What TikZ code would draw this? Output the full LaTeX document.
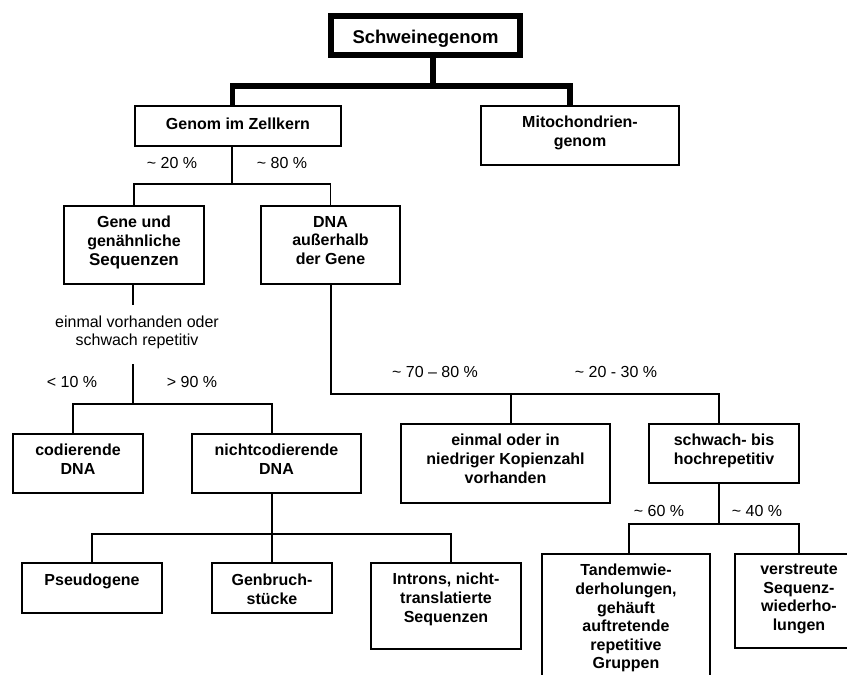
\documentclass[tikz,border=0pt]{standalone}
\usepackage{fontspec}
\setmainfont{Liberation Sans}
\begin{document}
\begin{tikzpicture}[x=1pt,y=-1pt,
  box/.style={draw, line width=1.8pt, inner sep=0pt, rectangle},
  bigbox/.style={draw, line width=5.5pt, inner sep=0pt, rectangle},
  txt/.style={anchor=north, inner sep=0pt, align=center, font=\bfseries\fontsize{16}{18.6}\selectfont},
  lbl/.style={anchor=base, inner sep=0pt, font=\fontsize{16}{18}\selectfont},
  conn/.style={line width=1.8pt},
  thickconn/.style={line width=5.5pt}]
\useasboundingbox (0,0) rectangle (847,675);
\clip (0,0) rectangle (847,675);
\fill[white] (0,0) rectangle (847,675);

% boxes
\node[bigbox, minimum width=189pt, minimum height=39pt] (s) at (425.5,35.5) {};
\node[anchor=base, inner sep=0pt, font=\bfseries\fontsize{18.5}{20}\selectfont] (s-t) at (425.5,43) {Schweinegenom};

\node[box, minimum width=206pt, minimum height=40pt] (gz) at (238,126) {};
\node[txt] (gz-t) at ([yshift=-12.5pt]gz.north) {Genom im Zellkern};

\node[box, minimum width=198pt, minimum height=59pt] (mito) at (580,135.5) {};
\node[txt] (mito-t) at ([yshift=-11pt]mito.north) {Mitochondrien-\\genom};

\node[box, minimum width=140pt, minimum height=78pt] (gene) at (134,245) {};
\node[txt] (gene-t) at ([yshift=-11pt]gene.north) {Gene und\\genähnliche\\{\fontsize{17}{18.6}\selectfont Sequenzen}};

\node[box, minimum width=139pt, minimum height=78pt] (dna) at (330.5,245) {};
\node[txt] (dna-t) at ([yshift=-11pt]dna.north) {DNA\\außerhalb\\der Gene};

\node[box, minimum width=130pt, minimum height=59pt] (cod) at (78,463.5) {};
\node[txt] (cod-t) at ([yshift=-11pt]cod.north) {codierende\\DNA};

\node[box, minimum width=169pt, minimum height=59pt] (nicht) at (276.5,463.5) {};
\node[txt] (nicht-t) at ([yshift=-11pt]nicht.north) {nichtcodierende\\DNA};

\node[box, minimum width=209pt, minimum height=79pt] (einmal) at (505.5,463.5) {};
\node[txt] (einmal-t) at ([yshift=-11pt]einmal.north) {einmal oder in\\niedriger Kopienzahl\\vorhanden};

\node[box, minimum width=150pt, minimum height=59pt] (schwach) at (724,453.5) {};
\node[txt] (schwach-t) at ([yshift=-11pt]schwach.north) {schwach- bis\\hochrepetitiv};

\node[box, minimum width=140pt, minimum height=50pt] (pseudo) at (92,588) {};
\node[txt] (pseudo-t) at ([yshift=-12pt]pseudo.north) {Pseudogene};

\node[box, minimum width=120pt, minimum height=50pt] (genbr) at (272,588) {};
\node[txt] (genbr-t) at ([yshift=-12pt]genbr.north) {Genbruch-\\stücke};

\node[box, minimum width=150pt, minimum height=86pt] (introns) at (446,606) {};
\node[txt] (introns-t) at ([yshift=-11pt]introns.north) {Introns, nicht-\\translatierte\\Sequenzen};

\node[box, minimum width=168pt, minimum height=136pt] (tandem) at (626,622) {};
\node[txt] (tandem-t) at ([yshift=-11pt]tandem.north) {Tandemwie-\\derholungen,\\gehäuft\\auftretende\\repetitive\\Gruppen};

\node[box, minimum width=128pt, minimum height=94pt] (verstr) at (799,601) {};
\node[txt] (verstr-t) at ([yshift=-11pt]verstr.north) {verstreute\\Sequenz-\\wiederho-\\lungen};

% labels
\node[lbl] (l20) at (172,168) {\textasciitilde\ 20 \%};
\node[lbl] (l80) at (282,168) {\textasciitilde\ 80 \%};
\node[anchor=north, inner sep=0pt, align=center, font=\fontsize{16}{18}\selectfont] (lev) at (137,315.5) {einmal vorhanden oder\\schwach repetitiv};
\node[lbl] (l10) at (72,387) {< 10 \%};
\node[lbl] (l90) at (192,387) {> 90 \%};
\node[lbl] (l7080) at (435,377) {\textasciitilde\ 70 – 80 \%};
\node[lbl] (l2030) at (616,377) {\textasciitilde\ 20 - 30 \%};
\node[lbl] (l60) at (659,516) {\textasciitilde\ 60 \%};
\node[lbl] (l40) at (757,516) {\textasciitilde\ 40 \%};

% junction coordinates
\coordinate (j0) at (433,86);
\coordinate (jl) at (232.5,86);
\coordinate (jr) at (570,86);
\coordinate (jG) at (232,184);
\coordinate (g1) at (133,305);
\coordinate (g2) at (133,364);
\coordinate (jC) at (133,404);
\coordinate (jN) at (272,534);
\coordinate (jD) at (331,394);
\coordinate (jE) at (511,394);
\coordinate (jS) at (719,394);
\coordinate (jR) at (719,524);

% thick connectors
\draw[thickconn] (s.south -| j0) -- (j0);
\draw[thickconn] (gz.north -| jl) -- (jl) -- (jr) -- (mito.north -| jr);

% thin connectors
\draw[conn] (gz.south -| jG) -- (jG);
\draw[conn] (gene.north) |- (jG) -| (dna.north);

\draw[conn] (gene.south -| g1) -- (g1);
\draw[conn] (g2) -- (jC);
\draw[conn] ([xshift=-5pt]cod.north) |- (jC) -| ([xshift=-4.5pt]nicht.north);

\draw[conn] (nicht.south -| jN) -- (genbr.north);
\draw[conn] (pseudo.north) |- (jN) -| ([xshift=5pt]introns.north);

\draw[conn] (dna.south -| jD) -- (jD) -- (jS) -- (schwach.north -| jS);
\draw[conn] (jE) -- (einmal.north -| jE);

\draw[conn] (schwach.south -| jR) -- (jR);
\draw[conn] ([xshift=3pt]tandem.north) |- (jR) -| (verstr.north);
\end{tikzpicture}
\end{document}
